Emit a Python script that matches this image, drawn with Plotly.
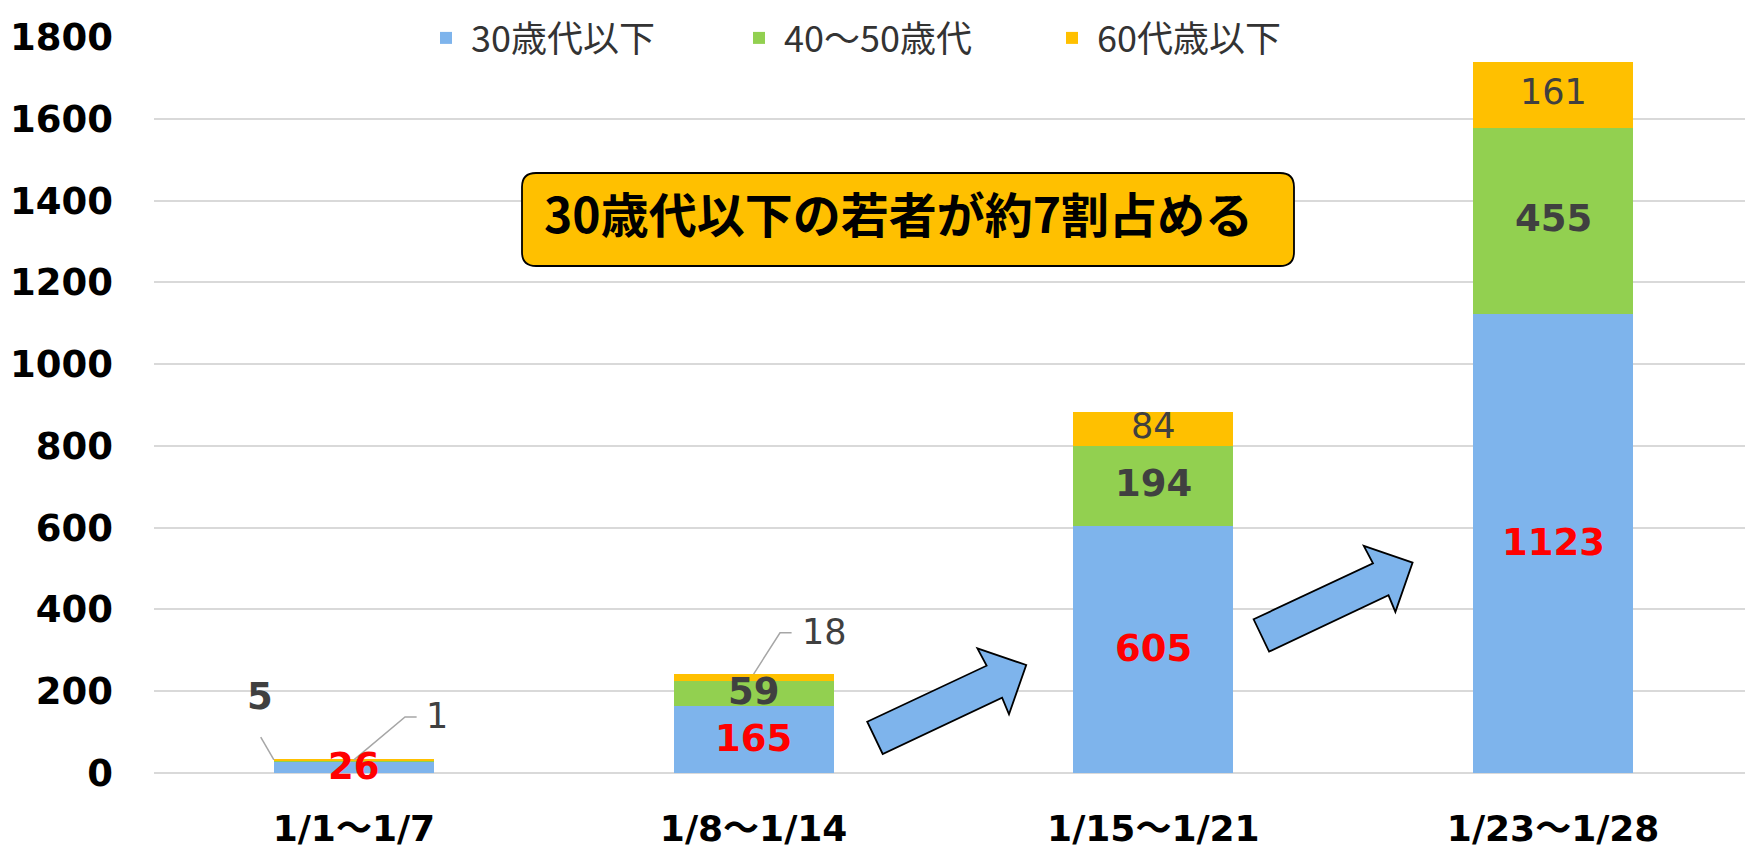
import plotly.graph_objects as go

# ---------------- data ----------------
categories = ["1/1～1/7", "1/8～1/14", "1/15～1/21", "1/23～1/28"]
series_names = ["30歳代以下", "40～50歳代", "60代歳以下"]
young = [26, 165, 605, 1123]     # 30歳代以下
middle = [5, 59, 194, 455]       # 40～50歳代
senior = [1, 18, 84, 161]        # 60代歳以下
y_ticks = [0, 200, 400, 600, 800, 1000, 1200, 1400, 1600, 1800]
callout_text = "30歳代以下の若者が約7割占める"

# ---------------- style / layout ----------------
OFF = 8                      # default page body margin
W, H = 1753 - 2 * OFF, 857 - 2 * OFF
ML, MT = 154 - OFF, 37 - OFF
MB = H - (773 - OFF)
PW = W - ML
PH = H - MT - MB
colors = ["#7EB4EC", "#92D050", "#FFC000"]
GRID = "#D9D9D9"
DARK = "#404040"
NUM_FONT = "DejaVu Sans"
JP_FONT = "Noto Sans CJK JP"
CAT_PX = 399.75              # pixels per category


def paper(X, Y):
    """page pixel position -> paper coords"""
    return (X - OFF - ML) / PW, (H - MB - (Y - OFF)) / PH


def container(X, Y):
    """page pixel position -> container coords"""
    return (X - OFF) / W, 1 - (Y - OFF) / H


xs = list(range(len(categories)))
fig = go.Figure()
for name, vals, col in zip(series_names, [young, middle, senior], colors):
    fig.add_bar(x=xs, y=vals, name=name, marker=dict(color=col, line=dict(width=0)),
                width=0.4, hoverinfo="skip")

annotations = []
shapes = []

# inside value labels
for i in xs:
    base = 0
    for k, vals in enumerate([young, middle, senior]):
        v = vals[i]
        mid = base + v / 2
        base += v
        if k == 0:
            annotations.append(dict(x=i, y=mid, text=str(v), showarrow=False,
                                    font=dict(family=NUM_FONT, size=37, color="#FF0000", weight="bold"),
                                    xanchor="center", yanchor="middle", yshift=1))
        elif k == 1 and v >= 20:
            annotations.append(dict(x=i, y=mid, text=str(v), showarrow=False,
                                    font=dict(family=NUM_FONT, size=37, color=DARK, weight="bold"),
                                    xanchor="center", yanchor="middle", yshift=2))
        elif k == 2 and v >= 40:
            annotations.append(dict(x=i, y=mid, text=str(v), showarrow=False,
                                    font=dict(family=NUM_FONT, size=35, color=DARK),
                                    xanchor="center", yanchor="middle", yshift=3))

totals = [a + b + c for a, b, c in zip(young, middle, senior)]
LEAD = dict(color="#A6A6A6", width=1.5)

# outside label for middle[0] (5) with leader
t0 = totals[0]
shapes.append(dict(type="path", xref="x", yref="y",
                   path=f"M {-0.2},{t0} L {-0.233},{t0 + 56}", line=LEAD))
annotations.append(dict(x=-0.235, y=t0 + 156, text=str(middle[0]), showarrow=False,
                        font=dict(family=NUM_FONT, size=37, color=DARK, weight="bold"),
                        xanchor="center", yanchor="middle"))
# outside label for senior[0] (1)
shapes.append(dict(type="path", xref="x", yref="y",
                   path=f"M 0,{t0} L 0.128,{t0 + 105} L 0.157,{t0 + 105}", line=LEAD))
annotations.append(dict(x=0.175, y=t0 + 107, text=str(senior[0]), showarrow=False,
                        font=dict(family=NUM_FONT, size=35, color=DARK),
                        xanchor="left", yanchor="middle"))
# outside label for senior[1] (18)
t1 = totals[1]
shapes.append(dict(type="path", xref="x", yref="y",
                   path=f"M 1,{t1} L 1.066,{t1 + 101} L 1.095,{t1 + 101}", line=LEAD))
annotations.append(dict(x=1.115, y=t1 + 103, text=str(senior[1]), showarrow=False,
                        font=dict(family=NUM_FONT, size=35, color=DARK),
                        xanchor="left", yanchor="middle"))

# block arrows
arrow_px = [(867.2, 721.7), (986.6, 665.7), (977.4, 648.3), (1026.2, 665.0),
            (1009.0, 714.3), (1002.1, 697.7), (882.7, 754.0)]
for dx, dy in [(0, 0), (386.4, -102.4)]:
    pts = [paper(x + dx, y + dy) for x, y in arrow_px]
    path = "M " + " L ".join(f"{p[0]:.5f},{p[1]:.5f}" for p in pts) + " Z"
    shapes.append(dict(type="path", xref="paper", yref="paper", path=path,
                       fillcolor="#7EB4EC", line=dict(color="black", width=1.8), layer="above"))

# callout box (rounded)
bx0, by0 = paper(522, 266)
bx1, by1 = paper(1294, 173)
rx, ry = 14 / PW, 14 / PH
box = (f"M {bx0 + rx},{by0} L {bx1 - rx},{by0} Q {bx1},{by0} {bx1},{by0 + ry} "
       f"L {bx1},{by1 - ry} Q {bx1},{by1} {bx1 - rx},{by1} "
       f"L {bx0 + rx},{by1} Q {bx0},{by1} {bx0},{by1 - ry} "
       f"L {bx0},{by0 + ry} Q {bx0},{by0} {bx0 + rx},{by0} Z")
shapes.append(dict(type="path", xref="paper", yref="paper", path=box,
                   fillcolor="#FFC000", line=dict(color="black", width=1.8), layer="above"))
cx, cy = paper(898, 212)
annotations.append(dict(x=cx, y=cy, xref="paper", yref="paper", text=callout_text,
                        showarrow=False, xanchor="center", yanchor="middle",
                        font=dict(family=JP_FONT, size=48, color="black", weight="bold")))

lx, _ = container(421, 0)
fig.update_layout(
    width=W, height=H,
    margin=dict(l=ML, r=0, t=MT, b=MB, autoexpand=False),
    paper_bgcolor="white", plot_bgcolor="white",
    barmode="stack",
    showlegend=True,
    legend=dict(orientation="h", x=lx, y=1, xref="container", yref="container",
                xanchor="left", yanchor="top",
                font=dict(family=JP_FONT, size=36, color="#333333"),
                itemwidth=40,
                entrywidth=258, entrywidthmode="pixels", traceorder="normal",
                bgcolor="rgba(0,0,0,0)"),
    xaxis=dict(range=[-0.5, -0.5 + PW / CAT_PX], tickvals=xs, ticktext=categories,
               showgrid=False, zeroline=False, showline=False, ticks="",
               ticklabelstandoff=31,
               tickfont=dict(family=NUM_FONT + ", " + JP_FONT, size=36, color="black", weight="bold")),
    yaxis=dict(range=[0, 1800], tickvals=y_ticks, showgrid=True, gridcolor=GRID, gridwidth=1.5,
               zeroline=True, zerolinecolor=GRID, zerolinewidth=1.5, showline=False, ticks="",
               ticklabelstandoff=40,
               tickfont=dict(family=NUM_FONT, size=37, color="black", weight="bold")),
    annotations=annotations,
    shapes=shapes,
)

fig.write_html("out.html")
